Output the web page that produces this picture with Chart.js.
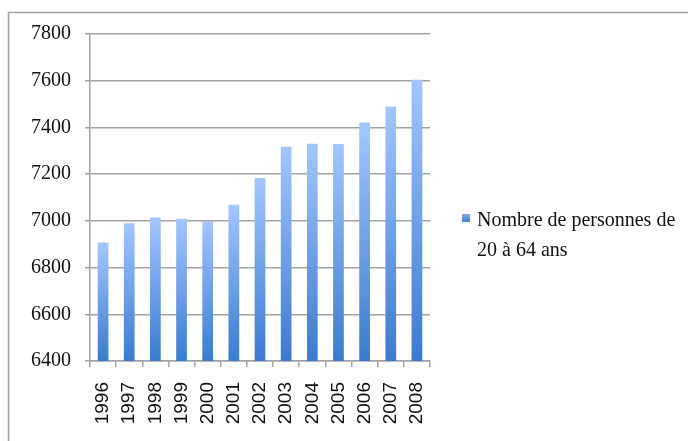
<!DOCTYPE html>
<html>
<head>
<meta charset="utf-8">
<script src="https://cdn.jsdelivr.net/npm/chart.js@4"></script>
<style>
  html, body { margin: 0; padding: 0; background: #fff; }
  #wrap { width: 688px; height: 441px; position: relative; }
</style>
</head>
<body>
<div id="wrap"><canvas id="c" width="688" height="441"></canvas></div>
<script>
const categories = ['1996','1997','1998','1999','2000','2001','2002','2003','2004','2005','2006','2007','2008'];
const values = [6907, 6990, 7014, 7009, 6999, 7069, 7184, 7317, 7330, 7329, 7421, 7490, 7604];
const seriesLabel = 'Nombre de personnes de 20 à 64 ans';
const legendLines = ['Nombre de personnes de', '20 à 64 ans'];
const yMin = 6400, yMax = 7800, yStep = 200;

const TOP_COLOR = '#A3C6FF';
const BOTTOM_COLOR = '#3A7BCF';
const GRID = '#A3A3A3';

function barGradient(context) {
  const chart = context.chart;
  const area = chart.chartArea;
  if (!area || context.type !== 'data') return BOTTOM_COLOR;
  const ys = chart.scales.y;
  const v = context.parsed ? context.parsed.y : values[context.dataIndex];
  const top = ys.getPixelForValue(v);
  const bottom = ys.getPixelForValue(yMin);
  if (!isFinite(top) || !isFinite(bottom) || top === bottom) return BOTTOM_COLOR;
  const g = chart.ctx.createLinearGradient(0, top, 0, bottom);
  g.addColorStop(0, TOP_COLOR);
  g.addColorStop(1, BOTTOM_COLOR);
  return g;
}

const frame = {
  id: 'frame',
  beforeDraw(chart) {
    const ctx = chart.ctx;
    ctx.save();
    ctx.fillStyle = '#fff';
    ctx.fillRect(0, 0, chart.width, chart.height);
    ctx.strokeStyle = '#A0A0A0';
    ctx.lineWidth = 1.5;
    ctx.strokeRect(8.5, 12.5, chart.width + 20, chart.height + 20);
    ctx.restore();
  }
};

const customLegend = {
  id: 'customLegend',
  afterDraw(chart) {
    const ctx = chart.ctx;
    const area = chart.chartArea;
    ctx.save();
    const x0 = area.right + 32;
    const y0 = 214;
    const g = ctx.createLinearGradient(0, y0, 0, y0 + 8);
    g.addColorStop(0, '#7FAEF0');
    g.addColorStop(1, '#3F7ED2');
    ctx.fillStyle = g;
    ctx.fillRect(x0, y0, 8, 8);
    ctx.fillStyle = '#111';
    ctx.font = '20px "Liberation Serif", serif';
    ctx.textBaseline = 'alphabetic';
    ctx.textAlign = 'left';
    legendLines.forEach((line, i) => {
      ctx.fillText(line, x0 + 15, 226 + i * 30);
    });
    ctx.restore();
  }
};

new Chart(document.getElementById('c'), {
  type: 'bar',
  data: {
    labels: categories,
    datasets: [{
      label: seriesLabel,
      data: values,
      backgroundColor: barGradient,
      borderWidth: 0,
      categoryPercentage: 1.0,
      barPercentage: 0.41
    }]
  },
  options: {
    responsive: false,
    animation: false,
    devicePixelRatio: 1,
    layout: { padding: { left: 31, right: 258, top: 34, bottom: 17 } },
    plugins: {
      legend: { display: false },
      tooltip: { enabled: false }
    },
    scales: {
      x: {
        afterFit(scale) { scale.height = 63; },
        grid: {
          display: true,
          drawOnChartArea: false,
          drawTicks: true,
          tickLength: 6,
          color: GRID,
          lineWidth: 1.5,
          offset: true
        },
        border: { display: true, color: GRID, width: 1.5 },
        ticks: {
          autoSkip: false,
          minRotation: 90,
          maxRotation: 90,
          padding: 15,
          color: '#111',
          font: { family: '"Liberation Sans", Arial, sans-serif', size: 19 }
        }
      },
      y: {
        min: yMin,
        max: yMax,
        afterFit(scale) { scale.width = 59; },
        grid: {
          color: GRID,
          lineWidth: 1.5,
          tickLength: 5,
          drawTicks: true
        },
        border: { display: true, color: GRID, width: 1.5 },
        ticks: {
          stepSize: yStep,
          padding: 14,
          color: '#111',
          callback: (v) => String(v),
          font: { family: '"Liberation Serif", "Times New Roman", serif', size: 20 }
        }
      }
    }
  },
  plugins: [frame, customLegend]
});
</script>
</body>
</html>
